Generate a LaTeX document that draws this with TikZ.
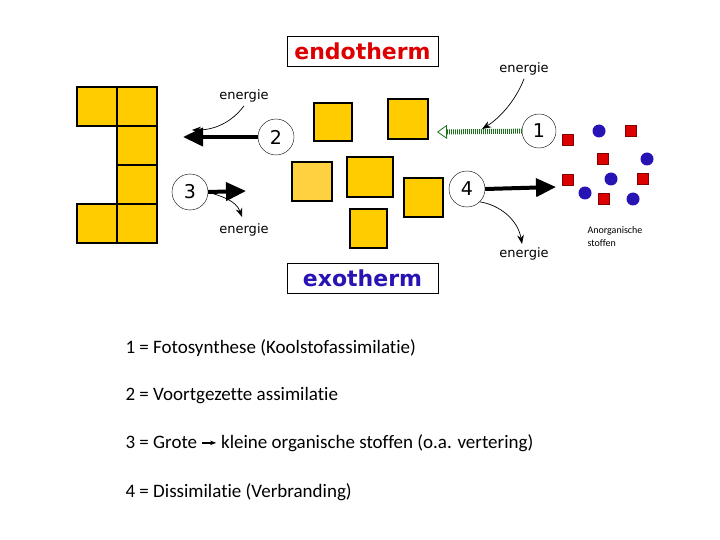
\documentclass[tikz,border=0pt]{standalone}
\usepackage{fontspec}
\setmainfont{Carlito}[Ligatures={NoCommon}]
\setsansfont{DejaVu Sans}
\usetikzlibrary{arrows.meta}
\definecolor{goud}{RGB}{255,204,0}
\definecolor{goudlicht}{RGB}{255,208,64}
\definecolor{rood}{RGB}{220,0,0}
\definecolor{blauw}{RGB}{40,20,180}
\definecolor{groen}{RGB}{30,110,30}
\tikzset{
  blok/.style={draw=black, fill=goud, line width=1.2pt},
  stap/.style={circle, draw, fill=white, minimum size=36pt, inner sep=0pt, font=\sffamily\fontsize{19}{19}\selectfont},
  pijl/.style={line width=4pt, -{Triangle[length=20pt,width=18pt]}},
  kromme/.style={-{Stealth[length=9pt]}, line width=0.7pt},
  enlabel/.style={font=\sffamily\fontsize{13}{13}\selectfont},
  kop/.style={draw, line width=1pt, fill=white, minimum width=151pt, minimum height=30pt, font=\sffamily\bfseries\fontsize{22}{22}\selectfont},
  regel/.style={anchor=west, font=\fontsize{19}{19}\selectfont},
  deeltje/.style={fill=rood, draw=rood!60!black, minimum size=11pt, inner sep=0pt},
  bolletje/.style={circle, fill=blauw, minimum width=11pt, minimum height=13pt, inner sep=0pt}
}
\begin{document}
\begin{tikzpicture}[x=1pt, y=-1pt]
  \useasboundingbox (0,0) rectangle (720,540);

  % koppen
  \node[kop, text=rood] (endo) at (362.5,51.5) {endotherm};
  \node[kop, text=blauw] (exo) at (362.5,278.5) {exotherm};

  % grote molecule links
  \foreach \y in {87,126,165,204}
    \draw[blok] (117,\y) rectangle +(40,39);
  \draw[blok] (77,87) rectangle +(40,39);
  \draw[blok] (77,204) rectangle +(40,39);

  % kleine moleculen midden
  \draw[blok] (314,103) rectangle (352,141);
  \draw[blok] (388,99) rectangle (428,139);
  \draw[blok, fill=goudlicht] (292,162) rectangle (332,201);
  \draw[blok] (347,157) rectangle (393,197);
  \draw[blok] (350,209) rectangle (387,248);
  \draw[blok] (404,178) rectangle (443,217);

  % stappen
  \node[stap] (s2) at (276,137) {2};
  \node[stap, minimum size=34pt] (s1) at (539,131) {1};
  \node[stap] (s3) at (190,192) {3};
  \node[stap] (s4) at (467,189) {4};

  \coordinate (e2) at (183,137);
  \coordinate (e3) at (246,191);
  \coordinate (e4) at (556,187);
  \coordinate (e1) at (437,132);
  \draw[pijl] (s2) -- (e2);
  \draw[pijl] (s3.east) -- (e3);
  \draw[pijl] (s4.east) -- (e4);
  \draw[groen, line width=5pt, dash pattern=on 0.8pt off 1.2pt, -{Triangle[open, length=10pt, width=14pt, line width=0.8pt]}] (s1) -- (e1);

  % energie
  \node[enlabel] (en2) at (244,96) {energie};
  \node[enlabel] (en1) at (524,69) {energie};
  \node[enlabel] (en3) at (244,230) {energie};
  \node[enlabel] (en4) at (524,254) {energie};
  \coordinate (k2) at (192,130);
  \coordinate (k1) at (482,129);
  \coordinate (k3) at (242,217);
  \coordinate (k4) at (522,244);
  \draw[kromme] (en2.south) .. controls (232,122) and (215,130) .. (k2);
  \draw[kromme] (en1.south) .. controls (516,100) and (500,118) .. (k1);
  \draw[kromme] (s3.east) .. controls (220,196) and (236,200) .. (k3);
  \draw[kromme] (s4.south east) .. controls (500,205) and (518,220) .. (k4);

  % anorganische stoffen
  \foreach \x/\y [count=\i] in {568/140,631/131,603/159,568/180,643/179,604/199}
    \node[deeltje] (r\i) at (\x,\y) {};
  \foreach \x/\y [count=\i] in {599/131,647/159,611/179,585/193,633/199}
    \node[bolletje] (b\i) at (\x,\y) {};
  \node[anchor=west, align=left, font=\fontsize{10}{13}\selectfont] (anorg) at (584,237) {Anorganische\\stoffen};

  % legenda
  \node[regel] (l1) at (122,348) {1 = Fotosynthese (Koolstofassimilatie)};
  \node[regel] (l2) at (122,396) {2 = Voortgezette assimilatie};
  \node[regel] (l3) at (122,443) {3 = Grote \tikz[baseline=-0.6ex]\draw[line width=1.4pt,-{Stealth[length=6pt]}] (0,0) -- (14,0); kleine organische stoffen (o.a. vertering)};
  \node[regel] (l4) at (122,492) {4 = Dissimilatie (Verbranding)};
\end{tikzpicture}
\end{document}
